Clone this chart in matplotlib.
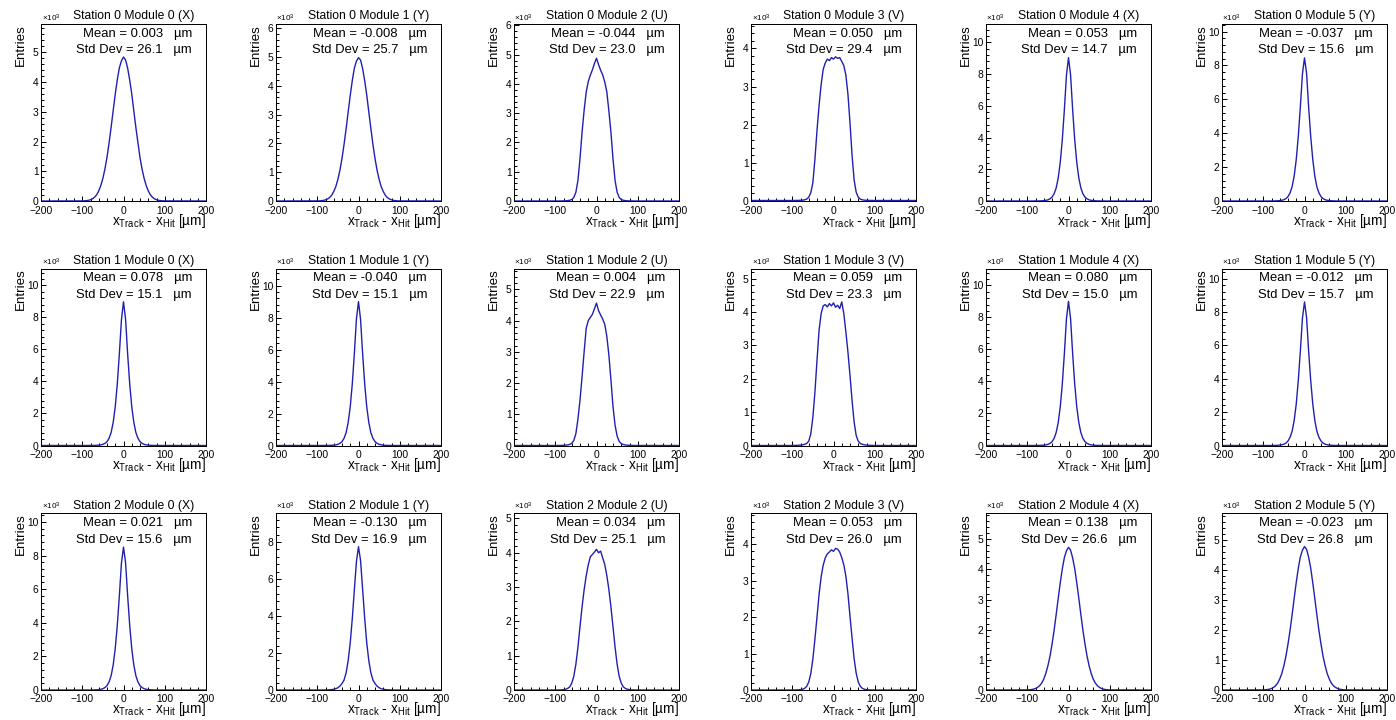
import matplotlib
matplotlib.use("Agg")
import matplotlib.pyplot as plt
from matplotlib.ticker import MultipleLocator, AutoMinorLocator, FuncFormatter

plt.rcParams["font.family"] = ["Liberation Sans", "DejaVu Sans"]
plt.rcParams["mathtext.fontset"] = "custom"
plt.rcParams["mathtext.rm"] = "Liberation Sans"
plt.rcParams["mathtext.it"] = "Liberation Sans:italic"
plt.rcParams["axes.unicode_minus"] = True

W, H, DPI = 1396, 720, 100

# ---------------------------------------------------------------- data
# residual sample points [um]; counts in units of 10^3 entries
x_grid = list(range(-100, 105, 5))

planes = ["X", "Y", "U", "V", "X", "Y"]

means = [["0.003", "-0.008", "-0.044", "0.050", "0.053", "-0.037"],
         ["0.078", "-0.040", "0.004", "0.059", "0.080", "-0.012"],
         ["0.021", "-0.130", "0.034", "0.053", "0.138", "-0.023"]]

std_devs = [["26.1", "25.7", "23.0", "29.4", "14.7", "15.6"],
            ["15.1", "15.1", "22.9", "23.3", "15.0", "15.7"],
            ["15.6", "16.9", "25.1", "26.0", "26.6", "26.8"]]

y_max = [[5.95, 6.15, 6.05, 4.64, 11.15, 10.45],
         [11.06, 11.07, 5.67, 5.30, 11.05, 10.60],
         [10.53, 9.57, 5.16, 4.85, 5.87, 5.90]]

# flat level of the histogram outside |x| > 100 um
baseline = [[0, 0, 0, 0.013, 0, 0],
            [0, 0, 0, 0, 0, 0],
            [0, 0, 0, 0, 0, 0]]

s0m0 = [0.003, 0.006, 0.012, 0.023, 0.042, 0.075, 0.13, 0.21, 0.34, 0.52, 0.76, 1.08, 1.47, 1.95, 2.48, 3.04, 3.59, 4.08, 4.48, 4.71,
        4.84,
        4.74, 4.47, 4.07, 3.60, 3.03, 2.47, 1.96, 1.46, 1.07, 0.76, 0.52, 0.34, 0.21, 0.13, 0.074, 0.041, 0.022, 0.012, 0.006, 0.003]
s0m1 = [0.003, 0.005, 0.011, 0.021, 0.04, 0.07, 0.12, 0.20, 0.33, 0.50, 0.75, 1.07, 1.48, 1.97, 2.51, 3.10, 3.67, 4.19, 4.62, 4.86,
        4.98,
        4.90, 4.60, 4.18, 3.68, 3.09, 2.52, 1.96, 1.48, 1.07, 0.75, 0.50, 0.33, 0.20, 0.12, 0.07, 0.04, 0.021, 0.011, 0.005, 0.003]
s0m2 = [0.0, 0.0, 0.001, 0.002, 0.003, 0.006, 0.012, 0.025, 0.05, 0.12, 0.3, 0.7, 1.45, 2.35, 3.1, 3.72, 4.08, 4.3, 4.48, 4.7,
        4.88,
        4.66, 4.47, 4.31, 4.07, 3.73, 3.08, 2.35, 1.44, 0.7, 0.3, 0.12, 0.05, 0.025, 0.012, 0.006, 0.003, 0.002, 0.001, 0.0, 0.0]
s0m3 = [0.013, 0.014, 0.015, 0.016, 0.018, 0.022, 0.03, 0.05, 0.1, 0.22, 0.48, 1.1, 1.85, 2.5, 3.05, 3.45, 3.62, 3.72, 3.68, 3.76,
        3.72,
        3.78, 3.74, 3.76, 3.66, 3.55, 3.3, 2.8, 2.05, 1.2, 0.55, 0.23, 0.1, 0.05, 0.03, 0.022, 0.018, 0.016, 0.015, 0.014, 0.013]
s0m4 = [0, 0, 0, 0.001, 0.002, 0.004, 0.006, 0.012, 0.022, 0.04, 0.072, 0.135, 0.24, 0.45, 0.81, 1.44, 2.43, 3.87, 5.76, 7.9,
        9.03,
        7.95, 5.78, 3.88, 2.44, 1.45, 0.82, 0.45, 0.245, 0.135, 0.073, 0.04, 0.022, 0.012, 0.006, 0.004, 0.002, 0.001, 0, 0, 0]
s0m5 = [0, 0, 0, 0.0008, 0.0017, 0.0034, 0.007, 0.013, 0.024, 0.042, 0.076, 0.144, 0.26, 0.48, 0.845, 1.48, 2.45, 3.84, 5.58, 7.5,
        8.45,
        7.55, 5.56, 3.83, 2.46, 1.47, 0.84, 0.48, 0.26, 0.143, 0.076, 0.042, 0.024, 0.013, 0.007, 0.0034, 0.0017, 0.0008, 0, 0, 0]

s1m0 = [0, 0, 0, 0.001, 0.002, 0.004, 0.006, 0.012, 0.022, 0.04, 0.072, 0.135, 0.24, 0.45, 0.81, 1.44, 2.42, 3.86, 5.75, 7.85,
        8.98,
        7.9, 5.74, 3.87, 2.43, 1.45, 0.81, 0.45, 0.245, 0.136, 0.072, 0.04, 0.022, 0.012, 0.006, 0.004, 0.002, 0.001, 0, 0, 0]
s1m1 = [0, 0, 0, 0.001, 0.002, 0.004, 0.006, 0.012, 0.022, 0.04, 0.072, 0.135, 0.24, 0.45, 0.81, 1.44, 2.43, 3.87, 5.77, 7.92,
        9.0,
        7.88, 5.75, 3.86, 2.42, 1.44, 0.8, 0.45, 0.243, 0.135, 0.072, 0.04, 0.022, 0.012, 0.006, 0.004, 0.002, 0.001, 0, 0, 0]
s1m2 = [0, 0, 0.001, 0.003, 0.005, 0.01, 0.02, 0.035, 0.07, 0.16, 0.38, 0.85, 1.45, 2.2, 3.0, 3.75, 4.0, 4.1, 4.2, 4.38,
        4.56,
        4.32, 4.18, 4.05, 3.88, 3.5, 2.9, 2.1, 1.25, 0.65, 0.3, 0.13, 0.06, 0.03, 0.018, 0.01, 0.005, 0.003, 0.001, 0, 0]
s1m3 = [0, 0.002, 0.004, 0.007, 0.012, 0.02, 0.035, 0.06, 0.13, 0.35, 0.85, 1.6, 2.55, 3.45, 3.95, 4.18, 4.22, 4.15, 4.25, 4.18,
        4.27,
        4.14, 4.2, 4.1, 4.3, 3.95, 3.4, 2.8, 2.1, 1.35, 0.7, 0.3, 0.13, 0.06, 0.035, 0.02, 0.012, 0.007, 0.004, 0.002, 0]
s1m4 = [0, 0, 0, 0.001, 0.002, 0.004, 0.006, 0.012, 0.021, 0.039, 0.07, 0.13, 0.235, 0.44, 0.8, 1.42, 2.41, 3.85, 5.74, 7.9,
        9.0,
        7.93, 5.76, 3.86, 2.42, 1.43, 0.8, 0.44, 0.238, 0.132, 0.071, 0.039, 0.021, 0.012, 0.006, 0.004, 0.002, 0.001, 0, 0, 0]
s1m5 = [0, 0, 0, 0.0009, 0.0017, 0.0035, 0.007, 0.013, 0.024, 0.043, 0.077, 0.146, 0.27, 0.49, 0.86, 1.5, 2.49, 3.91, 5.68, 7.62,
        8.6,
        7.68, 5.66, 3.9, 2.5, 1.5, 0.86, 0.49, 0.27, 0.146, 0.077, 0.043, 0.024, 0.013, 0.007, 0.0035, 0.0017, 0.0009, 0, 0, 0]

s2m0 = [0, 0, 0, 0.0008, 0.0017, 0.0034, 0.007, 0.013, 0.024, 0.043, 0.077, 0.145, 0.26, 0.48, 0.85, 1.49, 2.47, 3.87, 5.61, 7.55,
        8.5,
        7.58, 5.62, 3.86, 2.46, 1.49, 0.85, 0.48, 0.26, 0.145, 0.077, 0.043, 0.024, 0.013, 0.007, 0.0034, 0.0017, 0.0008, 0, 0, 0]
s2m1 = [0, 0, 0, 0.001, 0.003, 0.006, 0.012, 0.023, 0.039, 0.07, 0.124, 0.21, 0.35, 0.54, 0.93, 1.59, 2.56, 3.88, 5.43, 6.95,
        7.75,
        7.0, 5.45, 3.87, 2.55, 1.58, 0.93, 0.54, 0.35, 0.21, 0.124, 0.07, 0.039, 0.023, 0.012, 0.006, 0.003, 0.001, 0, 0, 0]
s2m2 = [0, 0.001, 0.002, 0.005, 0.011, 0.022, 0.045, 0.09, 0.2, 0.4, 0.75, 1.25, 1.85, 2.42, 2.92, 3.33, 3.65, 3.88, 3.95, 4.02,
        4.1,
        4.0, 4.05, 3.85, 3.66, 3.34, 2.93, 2.42, 1.84, 1.25, 0.75, 0.4, 0.2, 0.09, 0.045, 0.022, 0.011, 0.005, 0.002, 0.001, 0]
s2m3 = [0, 0.001, 0.002, 0.005, 0.01, 0.02, 0.045, 0.1, 0.22, 0.45, 0.85, 1.4, 2.0, 2.62, 3.1, 3.42, 3.62, 3.73, 3.78, 3.84,
        3.8,
        3.88, 3.86, 3.78, 3.63, 3.43, 3.12, 2.64, 2.02, 1.42, 0.86, 0.46, 0.22, 0.1, 0.045, 0.02, 0.01, 0.005, 0.002, 0.001, 0]
s2m4 = [0.004, 0.008, 0.015, 0.027, 0.05, 0.086, 0.144, 0.23, 0.36, 0.55, 0.80, 1.11, 1.51, 1.97, 2.49, 3.03, 3.55, 4.02, 4.39, 4.62,
        4.73,
        4.64, 4.38, 4.03, 3.56, 3.04, 2.5, 1.98, 1.52, 1.12, 0.8, 0.55, 0.36, 0.23, 0.144, 0.086, 0.05, 0.027, 0.015, 0.008, 0.004]
s2m5 = [0.004, 0.008, 0.015, 0.028, 0.05, 0.087, 0.145, 0.23, 0.37, 0.55, 0.81, 1.13, 1.53, 1.99, 2.51, 3.06, 3.59, 4.06, 4.44, 4.66,
        4.78,
        4.69, 4.43, 4.07, 3.58, 3.05, 2.5, 1.98, 1.53, 1.12, 0.81, 0.55, 0.37, 0.23, 0.145, 0.087, 0.05, 0.028, 0.015, 0.008, 0.004]

counts = [[s0m0, s0m1, s0m2, s0m3, s0m4, s0m5],
          [s1m0, s1m1, s1m2, s1m3, s1m4, s1m5],
          [s2m0, s2m1, s2m2, s2m3, s2m4, s2m5]]

# ---------------------------------------------------------------- layout (pixels)
col_left = [41, 276, 514, 751, 986, 1222]
row_bottom = [201, 445.5, 690]
frame_w, frame_h = 165, 177

line_color = "#2020b0"
px = 0.72  # points per pixel at 100 dpi


def fx(x):
    return x / W


def fy(y):
    return 1 - y / H


fig = plt.figure(figsize=(W / DPI, H / DPI), dpi=DPI)
fig.patch.set_facecolor("white")

for r in range(3):
    for c in range(6):
        left = col_left[c]
        bottom = row_bottom[r]
        top = bottom - frame_h
        right = left + frame_w
        ax = fig.add_axes([fx(left), fy(bottom), frame_w / W, frame_h / H])

        base = baseline[r][c]
        xs = [-200] + x_grid + [200]
        ys = [base] + counts[r][c] + [base]
        ax.plot(xs, ys, color=line_color, lw=1.0, zorder=2)

        ax.set_xlim(-200, 200)
        ax.set_ylim(0, y_max[r][c])

        ax.xaxis.set_major_locator(MultipleLocator(100))
        ax.xaxis.set_minor_locator(AutoMinorLocator(5))
        step = 1 if y_max[r][c] < 7 else 2
        ax.yaxis.set_major_locator(MultipleLocator(step))
        ax.yaxis.set_minor_locator(AutoMinorLocator(5))
        ax.yaxis.set_major_formatter(FuncFormatter(lambda v, p: f"{v:g}"))

        ax.tick_params(which="both", direction="in", top=False, right=False,
                       width=1.0 * px, labelsize=10.2 * px, colors="black")
        ax.tick_params(which="major", length=5.3 * px)
        ax.tick_params(which="minor", length=2.7 * px)
        ax.tick_params(axis="x", which="both", pad=4.5 * px)
        ax.tick_params(axis="y", which="both", pad=2.6 * px)
        for sp in ax.spines.values():
            sp.set_linewidth(1.0 * px)
            sp.set_zorder(3)

        # title and exponent label
        fig.text(fx((left + right) / 2 + 10), fy(top - 4.5),
                 f"Station {r} Module {c} ({planes[c]})",
                 ha="center", va="baseline", fontsize=12.1 * px)
        fig.text(fx(left + 0.5), fy(top - 3), "×10$^{3}$",
                 ha="left", va="baseline", fontsize=8.2 * px)

        # statistics
        fig.text(fx(right - 14), fy(top + 12.8), f"Mean = {means[r][c]}   µm",
                 ha="right", va="baseline", fontsize=13.0 * px)
        fig.text(fx(right - 14), fy(top + 29.5), f"Std Dev = {std_devs[r][c]}   µm",
                 ha="right", va="baseline", fontsize=13.0 * px)

        # axis titles
        fig.text(fx(left - 20.5), fy(top), "Entries", rotation=90,
                 ha="center", va="top", fontsize=13.4 * px)
        fig.text(fx(right), fy(bottom + 23.5),
                 "x$_{\\mathregular{Track}}$ - x$_{\\mathregular{Hit}}$ [µm]",
                 ha="right", va="baseline", fontsize=13.6 * px)

fig.savefig("out.png", dpi=DPI)
